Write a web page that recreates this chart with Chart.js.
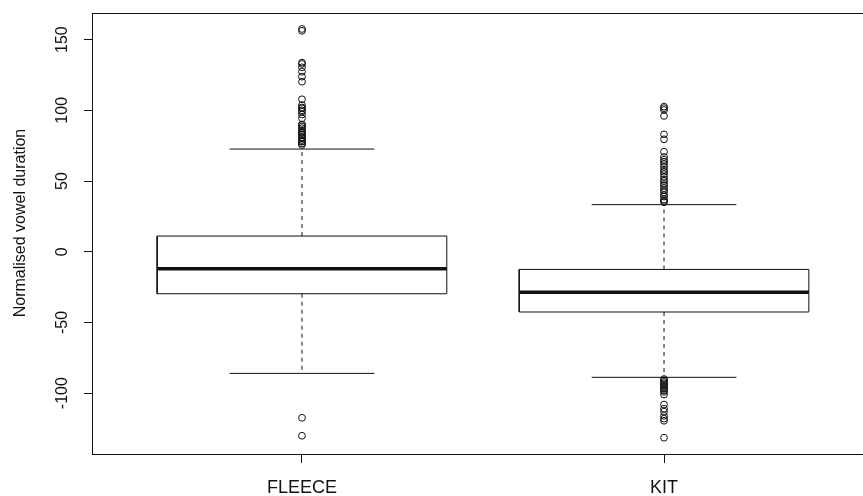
<!DOCTYPE html>
<html>
<head>
<meta charset="utf-8">
<title>Normalised vowel duration</title>
<script src="https://cdn.jsdelivr.net/npm/chart.js@4/dist/chart.umd.min.js"></script>
<style>
  html, body { margin: 0; padding: 0; background: #fff; overflow: hidden; }
  #wrap { width: 874px; height: 496px; }
</style>
</head>
<body>
<div id="wrap"><canvas id="chart" width="874" height="496"></canvas></div>
<script>
// categories and their positions on the x axis (R boxplot: 1, 2)
const categories = ['FLEECE', 'KIT'];
const positions = [1, 2];

// five-number summaries
const lowerWhisker = [-86, -88.8];
const q1 = [-29.7, -42.6];
const median = [-12, -28.7];
const q3 = [11.1, -12.5];
const upperWhisker = [72.6, 33.3];

const fleeceOutliers = [157.5, 156.2, 133.7, 132.8, 130.4, 127.3, 123.8, 120.2, 107.8, 103.7, 102, 101.4,
  100, 99, 97, 94.3, 90, 89.6, 88.5, 87.3, 86, 84.9, 84, 83, 82.5, 81, 80.2, 79, 78, 77.8, 76.5, 75.5,
  -117.4, -130.1];
const kitOutliers = [102.6, 101.5, 100.2, 96, 83, 79.5, 70.7, 67, 65, 63.6, 62, 60, 58, 56.6, 55, 53, 51, 50,
  48, 47, 45, 43.6, 42, 40, 39, 37, 36, 35,
  -90, -91, -92, -93, -94, -95, -96, -97, -98, -99, -101, -108, -111, -113, -116, -118, -119.5, -131.5];

const yTicks = [-100, -50, 0, 50, 100, 150];
const yTitle = 'Normalised vowel duration';

const FONT = '16px "Liberation Sans", Arial, sans-serif';
const XFONT = '18px "Liberation Sans", Arial, sans-serif';
const INK = '#111';
const boxHalf = 0.4;    // boxwex 0.8
const stapleHalf = 0.2; // staplewex 0.5

function seg(points, width, dash) {
  return {
    data: points, showLine: true, borderColor: INK, borderWidth: width,
    borderDash: dash || [], pointRadius: 0, pointHoverRadius: 0, fill: false
  };
}

const datasets = [];
positions.forEach((p, i) => {
  datasets.push(seg([{ x: p, y: q3[i] }, { x: p, y: upperWhisker[i] }], 1, [4, 4]));
  datasets.push(seg([{ x: p, y: q1[i] }, { x: p, y: lowerWhisker[i] }], 1, [4, 4]));
  datasets.push(seg([{ x: p - stapleHalf, y: upperWhisker[i] }, { x: p + stapleHalf, y: upperWhisker[i] }], 1));
  datasets.push(seg([{ x: p - stapleHalf, y: lowerWhisker[i] }, { x: p + stapleHalf, y: lowerWhisker[i] }], 1));
  datasets.push(seg([
    { x: p - boxHalf, y: q1[i] }, { x: p + boxHalf, y: q1[i] }, { x: p + boxHalf, y: q3[i] },
    { x: p - boxHalf, y: q3[i] }, { x: p - boxHalf, y: q1[i] }
  ], 1));
  datasets.push(seg([{ x: p - boxHalf, y: median[i] }, { x: p + boxHalf, y: median[i] }], 3.5));
});
[fleeceOutliers, kitOutliers].forEach((vals, i) => {
  datasets.push({
    data: vals.map(v => ({ x: positions[i], y: v })),
    showLine: false, pointStyle: 'circle', pointRadius: 3.4, pointHoverRadius: 3.4,
    pointBackgroundColor: 'rgba(0,0,0,0)', pointBorderColor: INK, pointBorderWidth: 1
  });
});

// frame and all axis text, placed from the scales
const axisText = {
  id: 'axisText',
  afterDraw(chart) {
    const { ctx, chartArea: a } = chart;
    const x = chart.scales.x, y = chart.scales.y;
    ctx.save();
    ctx.strokeStyle = INK;
    ctx.lineWidth = 1;
    ctx.strokeRect(Math.round(a.left) + 0.5, Math.round(a.top) + 0.5, a.right - a.left, a.bottom - a.top);
    ctx.font = FONT;
    ctx.fillStyle = INK;
    ctx.textAlign = 'center';
    ctx.textBaseline = 'alphabetic';
    yTicks.forEach(v => {
      ctx.save();
      ctx.translate(67, y.getPixelForValue(v));
      ctx.rotate(-Math.PI / 2);
      ctx.fillText(String(v), 0, 0);
      ctx.restore();
    });
    ctx.save();
    ctx.translate(25, 223);
    ctx.rotate(-Math.PI / 2);
    ctx.fillText(yTitle, 0, 0);
    ctx.restore();
    ctx.font = XFONT;
    categories.forEach((c, i) => {
      ctx.fillText(c, x.getPixelForValue(positions[i]), 493);
    });
    ctx.restore();
  }
};

new Chart(document.getElementById('chart'), {
  type: 'scatter',
  data: { datasets },
  plugins: [axisText],
  options: {
    responsive: false,
    animation: false,
    events: [],
    layout: { autoPadding: false, padding: { top: 13, left: 0, right: 0, bottom: 0 } },
    plugins: { legend: { display: false }, tooltip: { enabled: false } },
    scales: {
      x: {
        type: 'linear', min: 0.42, max: 2.58,
        afterBuildTicks: s => { s.ticks = positions.map(v => ({ value: v })); },
        afterFit: s => { s.height = 42; },
        ticks: { display: false },
        border: { display: false },
        grid: { drawOnChartArea: false, drawTicks: true, tickLength: 9, color: INK, tickColor: INK }
      },
      y: {
        type: 'linear', min: -143, max: 168.8,
        afterBuildTicks: s => { s.ticks = yTicks.map(v => ({ value: v })); },
        afterFit: s => { s.width = 92; },
        ticks: { display: false },
        border: { display: false },
        grid: { drawOnChartArea: false, drawTicks: true, tickLength: 8, color: INK, tickColor: INK }
      }
    }
  }
});
</script>
</body>
</html>
